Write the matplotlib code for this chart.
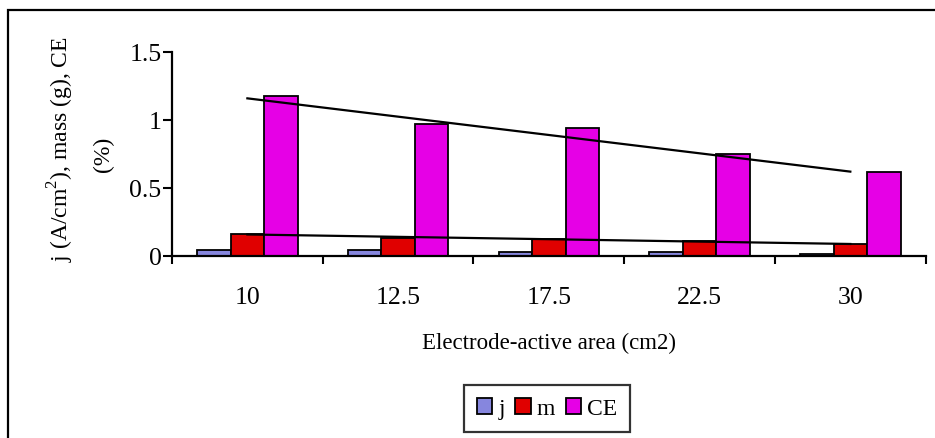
import numpy as np
import matplotlib
matplotlib.use("Agg")
import matplotlib.pyplot as plt
from matplotlib.patches import Rectangle, Patch

plt.rcParams['font.family'] = ['Liberation Serif', 'DejaVu Serif']
plt.rcParams['mathtext.fontset'] = 'custom'
plt.rcParams['mathtext.rm'] = 'Liberation Serif'

# Electrode-active area categories and measured series
areas = ['10', '12.5', '17.5', '22.5', '30']
j_vals = [0.042, 0.042, 0.027, 0.025, 0.012]
m_vals = [0.162, 0.130, 0.122, 0.105, 0.087]
ce_vals = [1.174, 0.968, 0.939, 0.745, 0.612]

colors = {'j': '#8686DE', 'm': '#E00000', 'CE': '#E600E6'}
TICK_FS = 18.5

fig = plt.figure(figsize=(9.35, 4.39), dpi=100)
ax = fig.add_axes([172 / 935, 1 - 256.7 / 439, (925.7 - 172) / 935, (256.7 - 52.7) / 439])

x = np.arange(len(areas))
w = 1 / 4.5
for off, vals, key in [(-w, j_vals, 'j'), (0, m_vals, 'm'), (w, ce_vals, 'CE')]:
    ax.bar(x + off, vals, width=w, color=colors[key], edgecolor='black', linewidth=1.3, zorder=2)

# Linear trendlines for mass and CE
for vals in (m_vals, ce_vals):
    k, b = np.polyfit(x, vals, 1)
    ax.plot([x[0], x[-1]], [k * x[0] + b, k * x[-1] + b], color='black', lw=1.6, zorder=3)

ax.set_xlim(-0.5, len(areas) - 0.5)
ax.set_ylim(0, 1.5)
ax.set_yticks([0, 0.5, 1, 1.5])
ax.set_yticklabels(['0', '0.5', '1', '1.5'])
ax.set_xticks(np.arange(-0.5, len(areas), 1))
ax.set_xticklabels([])
ax.set_xticks(x, minor=True)
ax.set_xticklabels(areas, minor=True)
ax.tick_params(axis='x', which='minor', length=0, pad=22, labelsize=TICK_FS)
ax.tick_params(axis='x', which='major', length=6, width=1.5)
ax.tick_params(axis='y', length=6.5, width=1.5, pad=1, labelsize=TICK_FS)

for s in ('top', 'right'):
    ax.spines[s].set_visible(False)
for s in ('left', 'bottom'):
    ax.spines[s].set_linewidth(1.6)

ax.set_xlabel('Electrode-active area (cm2)', fontsize=16.5, labelpad=17)
fig.text(61 / 935, 1 - 149 / 439, r'j (A/cm$^2$), mass (g), CE', rotation=90,
         ha='center', va='center', fontsize=17)
fig.text(103 / 935, 1 - 154 / 439, '(%)', rotation=90, ha='center', va='center', fontsize=17)

handles = [Patch(facecolor=colors[k], edgecolor='black', linewidth=1.3, label=k) for k in ('j', 'm', 'CE')]
leg = fig.legend(handles=handles, loc='lower center', bbox_to_anchor=(547 / 935, 6 / 439),
                 ncol=3, frameon=True, fancybox=False, fontsize=17, handlelength=0.65,
                 handleheight=0.65, handletextpad=0.25, columnspacing=0.45, borderpad=0.55,
                 borderaxespad=0)
leg.get_frame().set_edgecolor('black')
leg.get_frame().set_linewidth(1.6)

# Outer chart border (top and left edges inside the canvas)
fig.patches.append(Rectangle((8 / 935, -0.2), 1.2, 1.2 - 11 / 439, transform=fig.transFigure,
                             fill=False, edgecolor='black', linewidth=1.6, clip_on=False))

fig.savefig('out.png', dpi=100)
